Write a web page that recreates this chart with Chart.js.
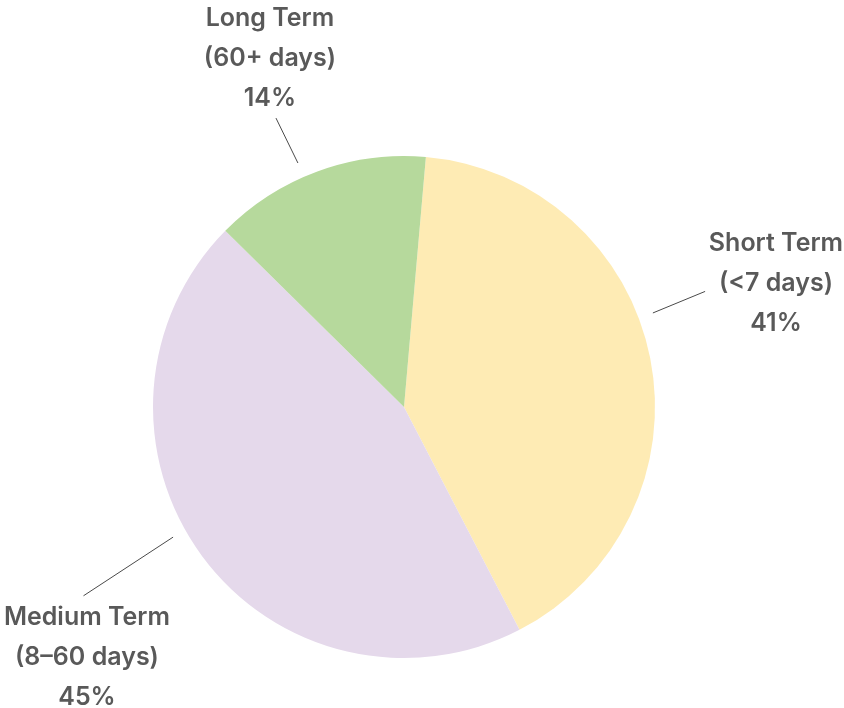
<!DOCTYPE html>
<html>
<head>
<meta charset="utf-8">
<script src="https://cdn.jsdelivr.net/npm/chart.js@4.4.1/dist/chart.umd.min.js"></script>
<style>
html,body{margin:0;padding:0;background:#fff;}
#wrap{width:844px;height:708px;position:relative;}
</style>
</head>
<body>
<div id="wrap"><canvas id="c" width="844" height="708"></canvas></div>
<script>
const categories = ["Short Term", "Medium Term", "Long Term"];
const subLabels = ["(<7 days)", "(8–60 days)", "(60+ days)"];
const values = [41, 45, 14];
const colors = ["#FEEBB4", "#E5D9EB", "#B6D99C"];

// label layout per slice: leader line angle (deg from top, clockwise), start/end radius factors, text offset relative to center (in radius units)
const labelLayout = [
  {a1: 69.3, r1: 1.06, a2: 69.0, r2: 1.285, tx: 1.482, ty: -0.498},
  {a1: 240.6, r1: 1.056, a2: 239.5, r2: 1.482, tx: -1.263, ty: 0.992},
  {a1: 336.5, r1: 1.06, a2: 336.1, r2: 1.259, tx: -0.534, ty: -1.394}
];

const labelPlugin = {
  id: 'outLabels',
  afterDatasetsDraw(chart) {
    const ctx = chart.ctx;
    const meta = chart.getDatasetMeta(0);
    const total = values.reduce((a, b) => a + b, 0);
    meta.data.forEach((arc, i) => {
      const cx = arc.x, cy = arc.y, R = arc.outerRadius;
      const L = labelLayout[i];
      const p = (ang, r) => {
        const t = (ang - 90) * Math.PI / 180;
        return [cx + Math.cos(t) * r * R, cy + Math.sin(t) * r * R];
      };
      const s = p(L.a1, L.r1), e = p(L.a2, L.r2);
      ctx.save();
      ctx.strokeStyle = '#4a4a4a';
      ctx.lineWidth = 1;
      ctx.beginPath();
      ctx.moveTo(s[0], s[1]);
      ctx.lineTo(e[0], e[1]);
      ctx.stroke();
      ctx.fillStyle = '#595959';
      ctx.font = '600 25px Inter, "Liberation Sans", Arial, sans-serif';
      ctx.textAlign = 'center';
      ctx.textBaseline = 'middle';
      const tx = cx + L.tx * R, ty = cy + L.ty * R + 1;
      const pct = Math.round(values[i] / total * 100) + '%';
      const lines = [categories[i], subLabels[i], pct];
      lines.forEach((ln, k) => ctx.fillText(ln, tx, ty + (k - 1) * 40));
      ctx.restore();
    });
  }
};

new Chart(document.getElementById('c'), {
  type: 'pie',
  data: {
    labels: categories,
    datasets: [{
      data: values,
      backgroundColor: colors,
      borderWidth: 0,
      hoverOffset: 0
    }]
  },
  options: {
    responsive: false,
    animation: false,
    rotation: 5,
    layout: {padding: {top: 156, bottom: 50, left: 153, right: 189}},
    plugins: {legend: {display: false}, tooltip: {enabled: false}}
  },
  plugins: [labelPlugin]
});
</script>
</body>
</html>
